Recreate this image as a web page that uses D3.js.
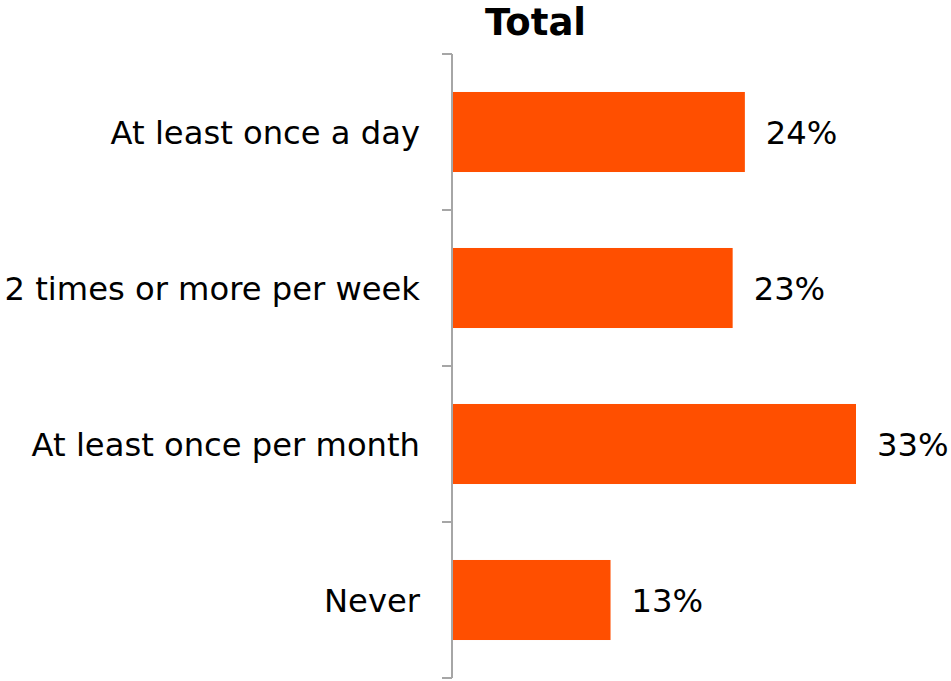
<!DOCTYPE html>
<html>
<head>
<meta charset="utf-8">
<script src="https://cdn.jsdelivr.net/npm/d3@7"></script>
<style>
  html, body { margin: 0; padding: 0; background: #fff; }
  svg { display: block; font-family: "DejaVu Sans", Verdana, sans-serif; }
</style>
</head>
<body>
<svg id="chart" width="951" height="681"></svg>
<script>
const title = "Total";
const categories = ["At least once a day", "2 times or more per week", "At least once per month", "Never"];
const values = [23.9, 22.9, 33.0, 12.9];
const valueLabels = ["24%", "23%", "33%", "13%"];

const svg = d3.select("#chart");
const axisX = 452;
const x = d3.scaleLinear().domain([0, 33]).range([453, 856]);
const y = d3.scaleBand().domain(categories).range([54, 678]).paddingInner(0.487).paddingOuter(0.2435);
const yAxisScale = d3.scaleBand().domain(categories).range([54, 678]);

svg.append("text")
  .attr("x", 535.5).attr("y", 35)
  .attr("text-anchor", "middle")
  .attr("font-weight", "bold")
  .attr("font-size", 37)
  .attr("fill", "#000")
  .text(title);

// axis line and category boundary ticks
const g = svg.append("g");
g.append("line")
  .attr("x1", axisX).attr("x2", axisX)
  .attr("y1", yAxisScale.range()[0]).attr("y2", yAxisScale.range()[1])
  .attr("stroke", "#a6a6a6").attr("stroke-width", 2);
const boundaries = categories.map(c => yAxisScale(c)).concat([yAxisScale.range()[1]]);
g.selectAll("line.tick").data(boundaries).join("line")
  .attr("class", "tick")
  .attr("x1", axisX - 10).attr("x2", axisX)
  .attr("y1", d => d).attr("y2", d => d)
  .attr("stroke", "#a6a6a6").attr("stroke-width", 2);

// bars
svg.selectAll("rect.bar").data(values).join("rect")
  .attr("class", "bar")
  .attr("x", x(0))
  .attr("y", (d, i) => y(categories[i]))
  .attr("width", d => x(d) - x(0))
  .attr("height", y.bandwidth())
  .attr("fill", "#ff4f00");

// category labels
svg.selectAll("text.cat").data(categories).join("text")
  .attr("class", "cat")
  .attr("x", 420)
  .attr("y", d => yAxisScale(d) + yAxisScale.bandwidth() / 2)
  .attr("dy", "0.38em")
  .attr("text-anchor", "end")
  .attr("font-size", 32.2)
  .attr("fill", "#000")
  .text(d => d);

// value labels
svg.selectAll("text.val").data(values).join("text")
  .attr("class", "val")
  .attr("x", d => x(d) + 21)
  .attr("y", (d, i) => yAxisScale(categories[i]) + yAxisScale.bandwidth() / 2)
  .attr("dy", "0.38em")
  .attr("font-size", 32.2)
  .attr("fill", "#000")
  .text((d, i) => valueLabels[i]);
</script>
</body>
</html>
